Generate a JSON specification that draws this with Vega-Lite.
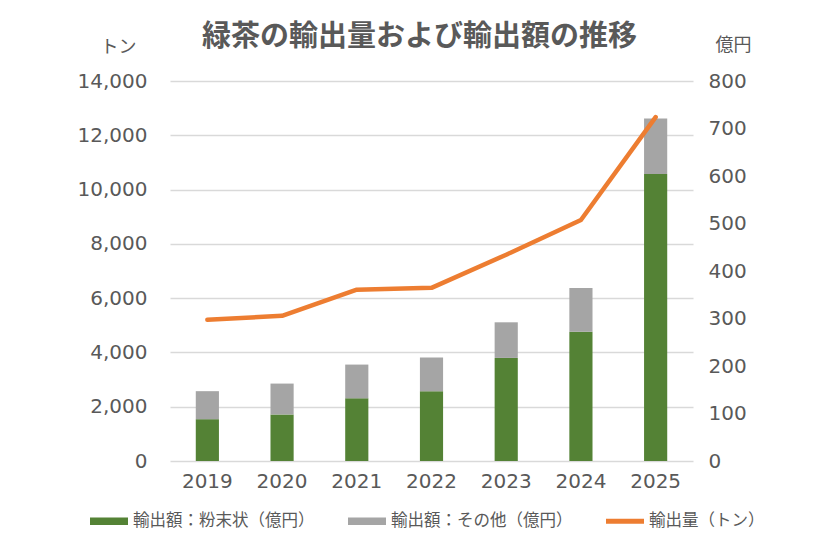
{
  "$schema": "https://vega.github.io/schema/vega-lite/v6.json",
  "autosize": "none",
  "width": 523,
  "height": 380,
  "padding": {"left": 170, "top": 81, "right": 145, "bottom": 88},
  "background": "white",
  "title": {
    "text": "緑茶の輸出量および輸出額の推移",
    "font": "Noto Sans CJK JP",
    "fontSize": 29,
    "fontWeight": "bold",
    "color": "#595959",
    "anchor": "middle",
    "dx": -12,
    "offset": -16
  },
  "config": {
    "font": "Noto Sans CJK JP",
    "view": {"stroke": null},
    "axis": {
      "labelFont": "DejaVu Sans",
      "labelColor": "#595959",
      "labelFontSize": 20,
      "titleFont": "Noto Sans CJK JP",
      "titleColor": "#595959",
      "titleFontSize": 18,
      "titleFontWeight": "normal",
      "domain": false,
      "ticks": false,
      "gridColor": "#D9D9D9",
      "gridWidth": 1.3
    }
  },
  "datasets": {
    "bars": [
      {"year": "2019", "series": "輸出額：粉末状（億円）", "value": 88},
      {"year": "2019", "series": "輸出額：その他（億円）", "value": 59},
      {"year": "2020", "series": "輸出額：粉末状（億円）", "value": 98},
      {"year": "2020", "series": "輸出額：その他（億円）", "value": 65},
      {"year": "2021", "series": "輸出額：粉末状（億円）", "value": 132},
      {"year": "2021", "series": "輸出額：その他（億円）", "value": 71},
      {"year": "2022", "series": "輸出額：粉末状（億円）", "value": 147},
      {"year": "2022", "series": "輸出額：その他（億円）", "value": 71},
      {"year": "2023", "series": "輸出額：粉末状（億円）", "value": 217},
      {"year": "2023", "series": "輸出額：その他（億円）", "value": 75},
      {"year": "2024", "series": "輸出額：粉末状（億円）", "value": 272},
      {"year": "2024", "series": "輸出額：その他（億円）", "value": 92},
      {"year": "2025", "series": "輸出額：粉末状（億円）", "value": 604},
      {"year": "2025", "series": "輸出額：その他（億円）", "value": 117}
    ],
    "line": [
      {"year": "2019", "tons": 5200},
      {"year": "2020", "tons": 5350},
      {"year": "2021", "tons": 6310},
      {"year": "2022", "tons": 6380},
      {"year": "2023", "tons": 7600},
      {"year": "2024", "tons": 8880},
      {"year": "2025", "tons": 12670}
    ]
  },
  "encoding": {
    "x": {
      "field": "year",
      "type": "ordinal",
      "scale": {"paddingInner": 0.69, "paddingOuter": 0.345},
      "axis": {"title": null, "labelAngle": 0, "labelPadding": 10, "grid": false}
    }
  },
  "layer": [
    {
      "data": {"name": "bars"},
      "mark": {"type": "bar"},
      "encoding": {
        "y": {
          "field": "value",
          "type": "quantitative",
          "stack": "zero",
          "scale": {"domain": [0, 800], "nice": false},
          "axis": {
            "orient": "right",
            "values": [0, 100, 200, 300, 400, 500, 600, 700, 800],
            "grid": false,
            "title": "億円",
            "titleAngle": 0,
            "titleAlign": "center",
            "titleBaseline": "middle",
            "titleX": 40,
            "titleY": -36,
            "labelPadding": 15
          }
        },
        "color": {
          "field": "series",
          "type": "nominal",
          "scale": {
            "domain": ["輸出額：粉末状（億円）", "輸出額：その他（億円）", "輸出量（トン）"],
            "range": ["#548235", "#A5A5A5", "#ED7D31"]
          },
          "legend": {
            "title": null,
            "orient": "none",
            "direction": "horizontal",
            "legendX": -80,
            "legendY": 421,
            "padding": 0,
            "symbolSize": 1444,
            "labelFont": "Noto Sans CJK JP",
            "labelFontSize": 16.5,
            "labelColor": "#595959",
            "labelOffset": 5,
            "columnPadding": 33,
            "labelLimit": 400,
            "encode": {
              "symbols": {
                "update": {
                  "shape": {"signal": "datum.value === '輸出量（トン）' ? 'M-1,-0.13H1V0.13H-1Z' : 'M-1,-0.2H1V0.2H-1Z'"},
                  "fill": {"scale": "color", "field": "value"},
                  "stroke": {"value": "transparent"},
                  "strokeWidth": {"value": 0},
                  "opacity": {"value": 1}
                }
              }
            }
          }
        },
        "order": {"field": "series", "sort": "descending"}
      }
    },
    {
      "data": {"name": "line"},
      "mark": {"type": "line", "strokeWidth": 4.5, "strokeJoin": "round", "strokeCap": "round"},
      "encoding": {
        "y": {
          "field": "tons",
          "type": "quantitative",
          "scale": {"domain": [0, 14000], "nice": false},
          "axis": {
            "orient": "left",
            "values": [0, 2000, 4000, 6000, 8000, 10000, 12000, 14000],
            "format": ",.0f",
            "grid": true,
            "title": "トン",
            "titleAngle": 0,
            "titleAlign": "center",
            "titleBaseline": "middle",
            "titleX": -52,
            "titleY": -34,
            "labelPadding": 23
          }
        },
        "color": {"datum": "輸出量（トン）"}
      }
    }
  ],
  "resolve": {"scale": {"y": "independent"}}
}
